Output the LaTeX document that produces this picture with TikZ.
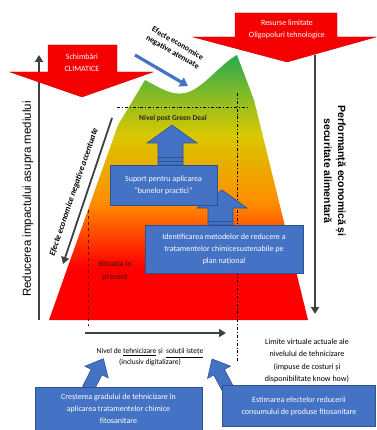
\documentclass[tikz,border=0pt]{standalone}
\usepackage{fontspec}
\setmainfont{Carlito}
\newfontfamily\arialfont{Liberation Sans}
\usetikzlibrary{arrows.meta}

\definecolor{boxblue}{RGB}{68,114,196}
\definecolor{boxedge}{RGB}{47,82,143}
\definecolor{arrowred}{RGB}{245,0,0}
\definecolor{darkline}{RGB}{64,64,64}
\definecolor{nowred}{RGB}{110,15,0}
\definecolor{mred}{RGB}{255,0,0}
\definecolor{morange}{RGB}{255,140,0}
\definecolor{myellow}{RGB}{215,200,0}
\definecolor{ygreen}{RGB}{150,190,30}
\definecolor{mgreen}{RGB}{40,170,80}

\pgfdeclareverticalshading{mountain}{100bp}{color(0bp)=(mred); color(25bp)=(mred); color(35bp)=(mred); color(47bp)=(morange); color(60bp)=(myellow); color(66bp)=(ygreen); color(75bp)=(mgreen); color(100bp)=(mgreen)}

\begin{document}
\begin{tikzpicture}[x=1pt,y=-1pt,
	bluebox/.style={ draw=boxedge, fill=boxblue, text=white, align=center, inner sep=1pt, font=\fontsize{8}{12}\selectfont },
	bluearrow/.style={ draw=boxedge, fill=boxblue, line width=0.6pt },
	redarrow/.style={ draw=arrowred!85!black, fill=arrowred, line width=0.4pt },
	axisarrow/.style={ draw=darkline, line width=2.2pt, -{Triangle[length=7pt,width=8pt]} },
	note/.style={ align=center, inner sep=0pt, font=\fontsize{8}{12.5}\selectfont },
	redtext/.style={ text=white, align=center, inner sep=0pt, font=\fontsize{8}{12}\selectfont }
]
\useasboundingbox (0,0) rectangle (376,430);

% the mountain
\shade[shading=mountain] (49,320) -- (118,125) -- (145,80) .. controls (160,88) and (172,96) .. (185,93) .. controls (202,90) and (220,64) .. (237,55) -- (254,100) -- (308,320) -- cycle;

\coordinate (envlow) at (39,320);
\coordinate (envtop) at (39,55);
\coordinate (perftop) at (315,55);
\coordinate (perflow) at (315,314);
\coordinate (techlow) at (85,333);
\coordinate (techtop) at (226,333);
\coordinate (worsetop) at (112,118);
\coordinate (worselow) at (63,264);
\coordinate (milder) at (135,55);
\coordinate (valley) at (188,86);
\coordinate (nowtop) at (88,210);
\coordinate (nowlow) at (88,326);
\coordinate (gdtop) at (237,93);
\coordinate (gdlow) at (237,362);
\coordinate (gdleft) at (117,107);
\coordinate (gdright) at (249,107);

\draw[axisarrow] (envlow) -- (envtop);
\draw[axisarrow, line width=1.8pt] (perftop) -- (perflow);
\draw[axisarrow, line width=2.6pt] (techlow) -- (techtop);
\draw[axisarrow, line width=1.8pt] (worsetop) -- (worselow);
\draw[boxblue, line width=3.2pt, -{Triangle[length=8pt,width=10pt]}] (milder) -- (valley);

\draw[nowred, line width=0.9pt, dashed] (nowtop) -- (nowlow);
\draw[black, line width=0.8pt, dash dot] (gdtop) -- (gdlow);
\draw[black, line width=0.8pt, dash dot] (gdleft) -- (gdright);

% red arrows
\draw[redarrow] (48,45) -- (117,45) -- (117,72) -- (153,72) -- (82,97) -- (10,72) -- (48,72) -- cycle;
\draw[redarrow] (235,13) -- (337,13) -- (337,37) -- (376,37) -- (287,62) -- (193,37) -- (235,37) -- cycle;
\node at (82,63) (climate) [redtext] {Schimbări\\CLIMATICE};
\node at (287,29) (resources) [redtext] {Resurse limitate\\Oligopoluri tehnologice};

% blue arrows
\draw[bluearrow] (158,165) -- (158,143) -- (147,143) -- (172,125) -- (197,143) -- (183,143) -- (183,165) -- cycle;
\draw[boxedge, line width=0.8pt] (158,157) -- (183,157) (158,161) -- (183,161);
\draw[bluearrow] (208,225) -- (208,208) -- (197,208) -- (222,190) -- (247,208) -- (233,208) -- (233,225) -- cycle;
\draw[boxedge, line width=0.8pt] (208,221) -- (233,221);
\begin{scope}[shift={(88,389)}, rotate=-27]
\draw[bluearrow] (-6,0) -- (-6,-19) -- (-13,-19) -- (0,-34) -- (13,-19) -- (6,-19) -- (6,0) -- cycle;
\end{scope}
\begin{scope}[shift={(228,389)}, rotate=28]
\draw[bluearrow] (-6,0) -- (-6,-19) -- (-13,-19) -- (0,-34) -- (13,-19) -- (6,-19) -- (6,0) -- cycle;
\end{scope}

% boxes
\node at (163.5,185) (support) [bluebox, minimum width=107pt, minimum height=40pt] {Suport pentru aplicarea\\``bunelor practici''};
\node at (224,249) (methods) [bluebox, minimum width=158pt, minimum height=48pt] {Identificarea metodelor de reducere a\\tratamentelor chimicesustenabile pe\\plan național};
\node at (118.5,409) (growth) [bluebox, minimum width=167pt, minimum height=43pt] {Creșterea gradului de tehnicizare în\\aplicarea tratamentelor chimice\\fitosanitare};
\node at (299,406) (estimate) [bluebox, minimum width=153pt, minimum height=41pt] {Estimarea efectelor reducerii\\consumului de produse fitosanitare};

% labels
\node at (173,118) (greendeal) [note, font=\bfseries\fontsize{7.5}{9}\selectfont, text=black!85] {Nivel post Green Deal};
\node at (115,271) (present) [note, text=nowred, font=\bfseries\fontsize{8}{12.5}\selectfont] {Situația în\\prezent};
\node at (150,357.5) (techlevel) [note, font=\fontsize{7.5}{11}\selectfont] {Nivel de \underline{tehnicizare} și \ \underline{soluții istețe}\\(inclusiv digitalizare)};
\node at (307,361) (limits) [note] {Limite virtuale actuale ale\\nivelului de tehnicizare\\(impuse de costuri și\\disponibilitate know how)};
\node at (175,48) (mild) [note, rotate=-30, font=\bfseries\fontsize{8}{10}\selectfont] {Efecte economice\\negative atenuate};
\node at (74,192) (worse) [note, rotate=71, font=\bfseries\itshape\fontsize{8.5}{10}\selectfont] {Efecte economice negative accentuate};
\node at (28,199) (impact) [rotate=90, inner sep=0pt, font=\arialfont\fontsize{11.5}{13}\selectfont] {Reducerea impactului asupra mediului};
\node at (335,171) (perform) [rotate=-90, align=center, inner sep=0pt, font=\arialfont\bfseries\fontsize{10.5}{14}\selectfont] {Performanță economică și\\securitate alimentară};

\end{tikzpicture}
\end{document}
